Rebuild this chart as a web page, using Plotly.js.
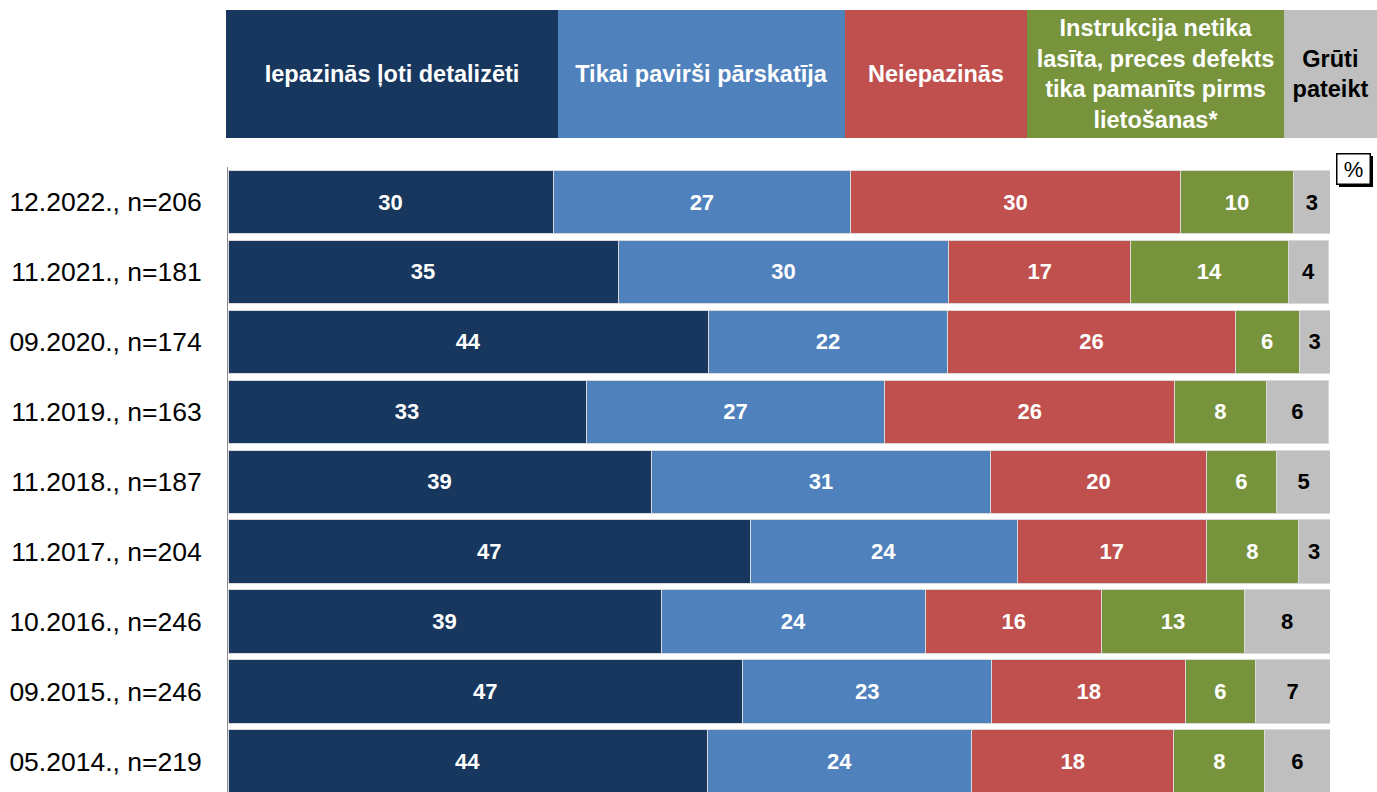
<!DOCTYPE html>
<html><head><meta charset="utf-8">
<script src="https://cdn.plot.ly/plotly-3.0.1.min.js"></script>
<style>html,body{margin:0;padding:0;background:#fff}#chart{width:1377px;height:792px}</style>
</head><body><div id="chart"></div>
<script>
// ---- data ----
const waves = ["12.2022., n=206","11.2021., n=181","09.2020., n=174","11.2019., n=163","11.2018., n=187","11.2017., n=204","10.2016., n=246","09.2015., n=246","05.2014., n=219"];
const seriesNames = ["Iepazinās ļoti detalizēti","Tikai pavirši pārskatīja","Neiepazinās","Instrukcija netika<br>lasīta, preces defekts<br>tika pamanīts pirms<br>lietošanas*","Grūti<br>pateikt"];
// bar lengths (%)
const detalizeti = [29.5,35.4,43.6,32.5,38.4,47.4,39.3,46.7,43.5];
const pavirsi     = [27.0,30.0,21.7,27.1,30.8,24.2,24.0,22.6,24.0];
const neiepazinas = [29.9,16.5,26.1,26.3,19.6,17.2,16.0,17.6,18.3];
const nelasita    = [10.3,14.3, 5.8, 8.3, 6.3, 8.3,12.9, 6.3, 8.3];
const gruti       = [ 3.3, 3.7, 2.8, 5.7, 5.0, 2.9, 7.8, 6.8, 5.9];
// printed labels
const detalizetiLab  = [30,35,44,33,39,47,39,47,44];
const pavirsiLab     = [27,30,22,27,31,24,24,23,24];
const neiepazinasLab = [30,17,26,26,20,17,16,18,18];
const nelasitaLab    = [10,14,6,8,6,8,13,6,8];
const grutiLab       = [3,4,3,6,5,3,8,7,6];

// ---- styling ----
const FONT = "Liberation Sans, Arial, sans-serif";
const colors = ["#17375E","#4F81BD","#C0504D","#77933C","#BFBFBF"];
const textColors = ["#FFFFFF","#FFFFFF","#FFFFFF","#FFFFFF","#000000"];
const values = [detalizeti,pavirsi,neiepazinas,nelasita,gruti];
const labels = [detalizetiLab,pavirsiLab,neiepazinasLab,nelasitaLab,grutiLab];

const traces = values.map((v,i)=>({
  type:"bar", orientation:"h", y:waves, x:v, name:seriesNames[i],
  text:labels[i].map(String), textposition:"inside", insidetextanchor:"middle",
  textangle:0, constraintext:"none",
  textfont:{family:FONT,size:22,color:textColors[i],weight:"bold"},
  marker:{color:colors[i],line:{color:"#D9D9D9",width:1}},
  hoverinfo:"skip"
}));

// geometry helpers (pixels -> paper)
const L=228, R=1330, T=167, B=792;
const px = p => (p-L)/(R-L);
const py = p => 1 + (T-p)/(B-T);

const headerEdges = [[226,558],[558,845],[845,1027],[1027,1284],[1284,1377]];
const annotations = headerEdges.map((e,i)=>({
  xref:"paper", yref:"paper", x:px(e[0]), y:py(10), xanchor:"left", yanchor:"top",
  width:e[1]-e[0], height:128, bgcolor:colors[i], borderpad:0, borderwidth:0,
  showarrow:false, align:"center", valign:"middle",
  text:seriesNames[i],
  font:{family:FONT,size:23.5,color:textColors[i],weight:"bold"}
}));
annotations.push({
  xref:"paper", yref:"paper", x:px(1336), y:py(153), xanchor:"left", yanchor:"top",
  width:32, height:29, bgcolor:"#FFFFFF", bordercolor:"#000000", borderwidth:1.5, borderpad:0,
  showarrow:false, text:"%", font:{family:FONT,size:22,color:"#000"}
});

const layout = {
  width:1377, height:792, barmode:"stack", bargap:0.086,
  margin:{l:L, r:1377-R, t:T, b:0, pad:0},
  paper_bgcolor:"#FFFFFF", plot_bgcolor:"#FFFFFF", showlegend:false,
  xaxis:{range:[0,100], visible:false, fixedrange:true},
  yaxis:{type:"category", categoryorder:"array", categoryarray:waves,
         range:[8.429,-0.5], showline:true, linecolor:"#8C8C8C", linewidth:1,
         showgrid:false, zeroline:false, ticks:"", ticklabelstandoff:20,
         tickfont:{family:FONT,size:26.5,color:"#000"}},
  shapes:[{type:"rect", xref:"paper", yref:"paper", x0:px(1339), x1:px(1373), y0:py(156), y1:py(187),
           fillcolor:"#000", line:{width:0}}],
  annotations:annotations
};
Plotly.newPlot("chart", traces, layout, {staticPlot:true, displayModeBar:false});
</script></body></html>
